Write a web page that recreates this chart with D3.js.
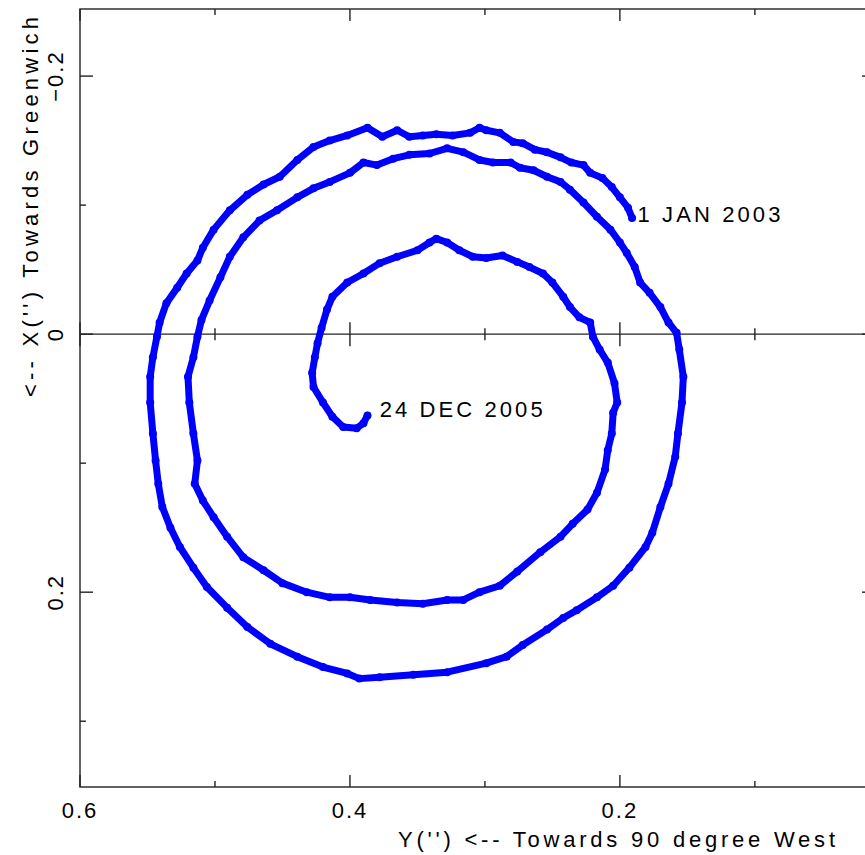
<!DOCTYPE html>
<html>
<head>
<meta charset="utf-8">
<script src="https://cdn.jsdelivr.net/npm/d3@7"></script>
<style>
  body { margin: 0; background: #fff; }
  svg { display: block; }
  text { font-family: "Liberation Sans", Arial, sans-serif; fill: #000; }
</style>
</head>
<body>
<svg width="865" height="855"></svg>
<script>
// polar motion path, 1 Jan 2003 -> 24 Dec 2005 (arcsec)
const yArcsec = [
    0.191, 0.194, 0.200, 0.206, 0.213, 0.222, 0.227, 0.236, 0.244, 0.254,
    0.263, 0.272, 0.279, 0.289, 0.299, 0.304, 0.311, 0.324, 0.336, 0.346,
    0.356, 0.365, 0.376, 0.387, 0.402, 0.415, 0.427, 0.439, 0.452, 0.464,
    0.476, 0.489, 0.501, 0.509, 0.513, 0.521, 0.528, 0.536, 0.541, 0.543,
    0.546, 0.548, 0.548, 0.546, 0.544, 0.542, 0.539, 0.533, 0.526, 0.516,
    0.506, 0.491, 0.476, 0.459, 0.439, 0.420, 0.402, 0.393, 0.378, 0.353,
    0.328, 0.299, 0.284, 0.272, 0.254, 0.242, 0.232, 0.217, 0.205, 0.193,
    0.181, 0.176, 0.170, 0.164, 0.159, 0.157, 0.154, 0.153, 0.156, 0.158,
    0.164, 0.170, 0.178, 0.185, 0.189, 0.195, 0.200, 0.207, 0.217, 0.227,
    0.237, 0.244, 0.254, 0.264, 0.274, 0.281, 0.294, 0.304, 0.316, 0.328,
    0.341, 0.356, 0.368, 0.380, 0.390, 0.400, 0.415, 0.427, 0.439, 0.454,
    0.467, 0.479, 0.489, 0.496, 0.504, 0.510, 0.513, 0.516, 0.520, 0.519,
    0.516, 0.513, 0.515, 0.509, 0.501, 0.491, 0.479, 0.464, 0.450, 0.432,
    0.415, 0.400, 0.385, 0.365, 0.346, 0.328, 0.316, 0.304, 0.289, 0.276,
    0.259, 0.244, 0.235, 0.224, 0.217, 0.211, 0.209, 0.206, 0.205, 0.202,
    0.204, 0.209, 0.215, 0.220, 0.222, 0.230, 0.237, 0.242, 0.250, 0.257,
    0.267, 0.276, 0.287, 0.299, 0.309, 0.319, 0.328, 0.336, 0.341, 0.350,
    0.365, 0.378, 0.390, 0.402, 0.413, 0.417, 0.421, 0.424, 0.426, 0.428,
    0.427, 0.420, 0.413, 0.405, 0.395, 0.390, 0.387
];
const xArcsec = [
    -0.090, -0.098, -0.106, -0.114, -0.121, -0.125, -0.131, -0.133, -0.137, -0.141,
    -0.143, -0.148, -0.149, -0.156, -0.158, -0.160, -0.156, -0.154, -0.155, -0.154,
    -0.153, -0.158, -0.153, -0.160, -0.154, -0.150, -0.145, -0.135, -0.122, -0.116,
    -0.108, -0.096, -0.081, -0.067, -0.057, -0.047, -0.036, -0.024, -0.009, 0.002,
    0.018, 0.033, 0.053, 0.077, 0.098, 0.116, 0.134, 0.150, 0.165, 0.181,
    0.196, 0.212, 0.227, 0.240, 0.250, 0.258, 0.263, 0.267, 0.266, 0.264,
    0.262, 0.255, 0.250, 0.241, 0.229, 0.220, 0.214, 0.204, 0.195, 0.181,
    0.165, 0.154, 0.134, 0.116, 0.095, 0.077, 0.053, 0.033, 0.012, -0.001,
    -0.009, -0.021, -0.032, -0.040, -0.052, -0.063, -0.071, -0.081, -0.091, -0.102,
    -0.112, -0.118, -0.122, -0.127, -0.129, -0.133, -0.133, -0.135, -0.141, -0.144,
    -0.140, -0.139, -0.136, -0.131, -0.133, -0.125, -0.118, -0.113, -0.106, -0.096,
    -0.088, -0.075, -0.060, -0.044, -0.026, -0.011, 0.002, 0.018, 0.033, 0.053,
    0.077, 0.098, 0.116, 0.129, 0.142, 0.157, 0.173, 0.183, 0.193, 0.200,
    0.204, 0.204, 0.206, 0.208, 0.209, 0.206, 0.206, 0.200, 0.195, 0.184,
    0.169, 0.157, 0.147, 0.136, 0.123, 0.105, 0.090, 0.077, 0.061, 0.053,
    0.038, 0.022, 0.012, 0.002, -0.009, -0.013, -0.021, -0.029, -0.040, -0.047,
    -0.052, -0.056, -0.061, -0.059, -0.060, -0.065, -0.071, -0.074, -0.071, -0.065,
    -0.060, -0.055, -0.047, -0.040, -0.029, -0.019, -0.005, 0.007, 0.018, 0.030,
    0.041, 0.053, 0.064, 0.072, 0.073, 0.069, 0.063
];

const yMajor = [0.6, 0.4, 0.2, 0.0];
const yMinor = [0.5, 0.3, 0.1];
const yLabels = [0.6, 0.4, 0.2];
const xMajor = [-0.2, 0, 0.2];
const xMinor = [-0.1, 0.1, 0.3];

const notes = [
    { label: "1 JAN 2003",  y: 0.187, x: -0.087, width: 143 },
    { label: "24 DEC 2005", y: 0.378, x: 0.064,  width: 163 },
];

const svg = d3.select("svg");

const xs = d3.scaleLinear().domain([0.6, 0.011]).range([80, 875]);
const ys = d3.scaleLinear().domain([-0.252, 0.351]).range([9, 787]);

const fmt = d => d === 0 ? "0" : d3.format(".1f")(d);

const x0 = xs(0.6), x1 = xs(0.011), y0 = ys(-0.252), y1 = ys(0.351);

const axes = svg.append("g")
    .attr("stroke", "#222")
    .attr("stroke-width", 1.4)
    .attr("fill", "none");

axes.append("rect")
    .attr("x", x0).attr("y", y0)
    .attr("width", x1 - x0).attr("height", y1 - y0);

// zero lines
axes.append("line")
    .attr("x1", x0).attr("x2", x1)
    .attr("y1", ys(0)).attr("y2", ys(0));
axes.append("line")
    .attr("x1", xs(0)).attr("x2", xs(0))
    .attr("y1", y0).attr("y2", y1);

function hTicks(vals, len) {
    vals.forEach(v => {
        axes.append("line").attr("x1", xs(v)).attr("x2", xs(v)).attr("y1", y1).attr("y2", y1 - len);
        axes.append("line").attr("x1", xs(v)).attr("x2", xs(v)).attr("y1", y0).attr("y2", y0 + len);
        axes.append("line").attr("x1", xs(v)).attr("x2", xs(v)).attr("y1", ys(0) - len).attr("y2", ys(0) + len);
    });
}
function vTicks(vals, len) {
    vals.forEach(v => {
        axes.append("line").attr("x1", x0).attr("x2", x0 + len).attr("y1", ys(v)).attr("y2", ys(v));
        axes.append("line").attr("x1", x1).attr("x2", x1 - len).attr("y1", ys(v)).attr("y2", ys(v));
        axes.append("line").attr("x1", xs(0) - len).attr("x2", xs(0) + len).attr("y1", ys(v)).attr("y2", ys(v));
    });
}
hTicks(yMajor, 12);
hTicks(yMinor, 6);
vTicks(xMajor, 13);
vTicks(xMinor, 6);

// tick labels
svg.append("g")
    .selectAll("text")
    .data(yLabels)
    .enter().append("text")
        .attr("x", d => xs(d))
        .attr("y", 818)
        .attr("text-anchor", "middle")
        .attr("font-size", 22)
        .attr("letter-spacing", 2)
        .text(fmt);

svg.append("g")
    .selectAll("text")
    .data(xMajor)
    .enter().append("text")
        .attr("transform", d => "translate(63," + ys(d) + ") rotate(-90)")
        .attr("text-anchor", "middle")
        .attr("font-size", 22)
        .attr("letter-spacing", 2)
        .text(fmt);

// axis titles
svg.append("text")
    .attr("x", 398).attr("y", 847)
    .attr("font-size", 22)
    .attr("textLength", 437)
    .attr("lengthAdjust", "spacing")
    .text("Y('') <-- Towards 90 degree West");

svg.append("text")
    .attr("transform", "translate(38,397) rotate(-90)")
    .attr("font-size", 22)
    .attr("textLength", 380)
    .attr("lengthAdjust", "spacing")
    .text("<-- X('') Towards Greenwich");

// path
const pts = yArcsec.map((y, i) => [y, xArcsec[i]]);

const line = d3.line()
    .x(d => xs(d[0]))
    .y(d => ys(d[1]));

svg.append("path")
    .datum(pts)
    .attr("d", line)
    .attr("fill", "none")
    .attr("stroke", "#0000ff")
    .attr("stroke-width", 7)
    .attr("stroke-linejoin", "round")
    .attr("stroke-linecap", "round");

svg.append("g")
    .selectAll("circle")
    .data(pts)
    .enter().append("circle")
        .attr("cx", d => xs(d[0]))
        .attr("cy", d => ys(d[1]))
        .attr("r", 4)
        .attr("fill", "#0000ff");

// date notes
svg.append("g")
    .selectAll("text")
    .data(notes)
    .enter().append("text")
        .attr("x", d => xs(d.y))
        .attr("y", d => ys(d.x))
        .attr("font-size", 22)
        .attr("textLength", d => d.width)
        .attr("lengthAdjust", "spacing")
        .text(d => d.label);
</script>
</body>
</html>
